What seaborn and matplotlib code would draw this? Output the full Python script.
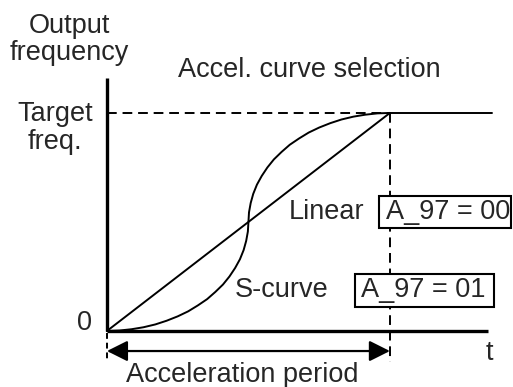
import numpy as np
import pandas as pd
import matplotlib
matplotlib.use("Agg")
from matplotlib import pyplot as plt
from matplotlib.patches import Rectangle
import seaborn as sns

# normalised units: time 0..1 = acceleration period, freq 0..1 = target freq
linear_t = [0.0, 1.0]
linear_f = [0.0, 1.0]

scurve_t = [0.000, 0.044, 0.087, 0.129, 0.171, 0.211, 0.250, 0.287, 0.321, 0.354,
            0.383, 0.410, 0.433, 0.453, 0.470, 0.483, 0.492, 0.498, 0.500,
            0.502, 0.508, 0.517, 0.530, 0.547, 0.567, 0.590, 0.617, 0.646,
            0.679, 0.713, 0.750, 0.789, 0.829, 0.871, 0.913, 0.956, 1.000]
scurve_f = [0.000, 0.002, 0.008, 0.017, 0.030, 0.047, 0.067, 0.090, 0.117, 0.146,
            0.179, 0.213, 0.250, 0.289, 0.329, 0.371, 0.413, 0.456, 0.500,
            0.544, 0.587, 0.629, 0.671, 0.711, 0.750, 0.787, 0.821, 0.854,
            0.883, 0.910, 0.933, 0.953, 0.970, 0.983, 0.992, 0.998, 1.000]

hold_t = [1.0, 1.36]
hold_f = [1.0, 1.0]

target_freq = 1.0
accel_end = 1.0

sns.set_style("white")
plt.rcParams['font.family'] = ['Liberation Sans', 'DejaVu Sans']

fig = plt.figure(figsize=(5.13, 3.87), dpi=100)
ax = fig.add_axes([0, 0, 1, 1])
ax.set_xlim(-0.378, 1.435)
ax.set_ylim(-0.257, 1.518)
ax.axis('off')

# curves
for tt, ff in [(linear_t, linear_f), (scurve_t, scurve_f), (hold_t, hold_f)]:
    sns.lineplot(x=tt, y=ff, ax=ax, color='black', lw=1.4, sort=False, estimator=None, zorder=3)

# axes
ax.plot([0, 0], [0, 1.16], color='black', lw=2.4, solid_capstyle='butt', zorder=4)
ax.plot([0, 1.346], [0, 0], color='black', lw=2.4, solid_capstyle='butt', zorder=4)

# dashed guides
dash = (0, (5, 3))
ax.plot([0, accel_end], [target_freq, target_freq], color='black', lw=1.4, linestyle=dash, zorder=2)
ax.plot([accel_end, accel_end], [target_freq, -0.142], color='black', lw=1.4, linestyle=dash, zorder=2)
ax.plot([0, 0], [-0.01, -0.142], color='black', lw=1.4, linestyle=(0, (3, 2)), zorder=2)

# acceleration period arrow
ax.annotate('', xy=(0, -0.092), xytext=(accel_end, -0.092),
            arrowprops=dict(arrowstyle='<|-|>,head_length=0.7,head_width=0.35',
                            color='black', lw=1.6, shrinkA=0, shrinkB=0, mutation_scale=18))

fs = 19.5
ax.text(-0.134, 1.339, 'Output\nfrequency', ha='center', va='center', fontsize=fs, linespacing=1.05)
ax.text(0.251, 1.197, 'Accel. curve selection', ha='left', va='center', fontsize=fs)
ax.text(-0.184, 0.933, 'Target\nfreq.', ha='center', va='center', fontsize=fs, linespacing=1.1)
ax.text(-0.081, 0.037, '0', ha='center', va='center', fontsize=fs)
ax.text(0.643, 0.546, 'Linear', ha='left', va='center', fontsize=fs)
ax.text(0.452, 0.188, 'S-curve', ha='left', va='center', fontsize=fs)
ax.text(0.986, 0.546, 'A_97 = 00', ha='left', va='center', fontsize=fs, zorder=6)
ax.text(0.898, 0.186, 'A_97 = 01', ha='left', va='center', fontsize=fs, zorder=6)
ax.text(1.353, -0.101, 't', ha='center', va='center', fontsize=fs)
ax.text(0.477, -0.202, 'Acceleration period', ha='center', va='center', fontsize=fs)

# setting boxes (white fill hides the dashed guide)
ax.add_patch(Rectangle((0.961, 0.472), 0.467, 0.147, fc='white', ec='black', lw=1.5, zorder=5))
ax.add_patch(Rectangle((0.876, 0.110), 0.491, 0.151, fc='white', ec='black', lw=1.5, zorder=5))

plt.savefig('out.png', dpi=100)
